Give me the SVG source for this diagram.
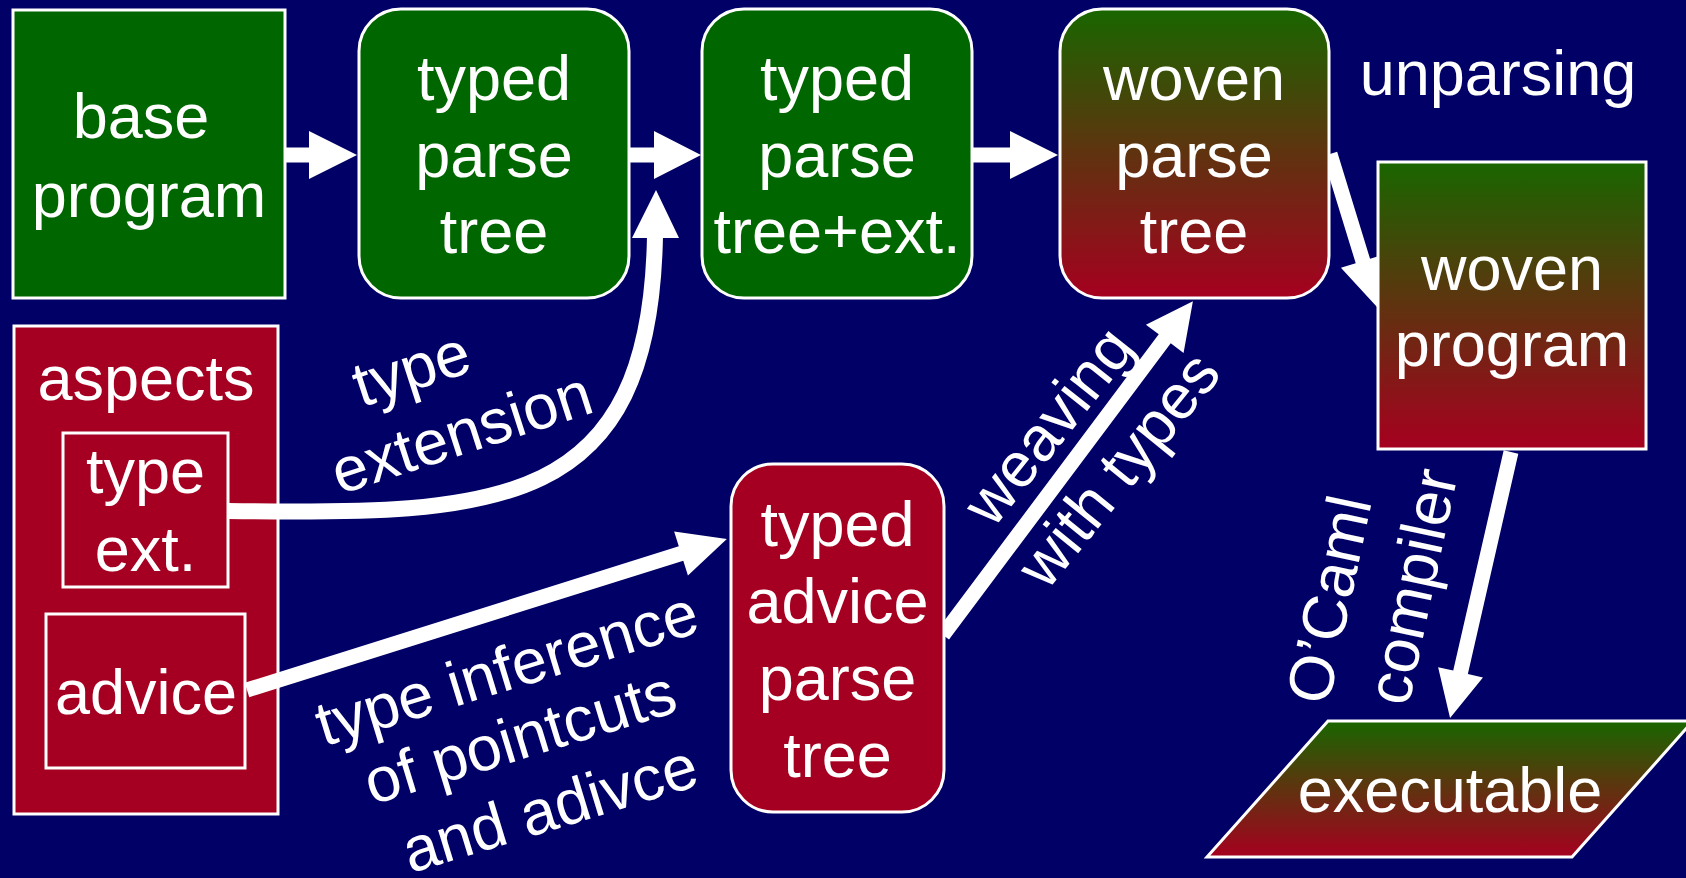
<svg xmlns="http://www.w3.org/2000/svg" width="1686" height="878" viewBox="0 0 1686 878">
<defs>
<linearGradient id="gr" x1="0" y1="0" x2="0" y2="1">
<stop offset="0" stop-color="#196600"/>
<stop offset="1" stop-color="#a6001f"/>
</linearGradient>
<style>
.t{font-family:"Liberation Sans",Arial,Helvetica,sans-serif;font-size:63px;fill:#fff;text-anchor:middle}
.box{stroke:#fff;stroke-width:3}
.g{fill:#006600}
.r{fill:#a50021}
.gr{fill:url(#gr)}
.ar{fill:#fff}
.cv{fill:none;stroke:#fff;stroke-width:16}
</style>
</defs>
<rect width="1686" height="878" fill="#000066"/>

<g id="aspects">
<rect class="box r" x="14" y="326" width="264" height="488"/>
<text class="t" x="146" y="400">aspects</text>
</g>
<g id="type-ext">
<rect class="box r" x="63" y="433" width="165" height="154"/>
<text class="t" x="145.5" y="493">type</text>
<text class="t" x="145.5" y="571">ext.</text>
</g>
<g id="advice">
<rect class="box r" x="46" y="614" width="199" height="154"/>
<text class="t" x="146" y="714">advice</text>
</g>

<g id="connectors" class="ar">
<polygon points="285,147.5 309,147.5 309,131 357,155 309,179 309,162.5 285,162.5"/>
<polygon points="629,147.5 654,147.5 654,131 701,155 654,179 654,162.5 629,162.5"/>
<polygon points="972,147.5 1010,147.5 1010,131 1058,155 1010,179 1010,162.5 972,162.5"/>
<path class="cv" d="M228,511 C500,515 650,510 655,236"/>
<polygon points="632,238 656,190 679,238"/>
<polygon transform="translate(247,690) rotate(-17.46)" points="0,-7.5 455,-7.5 455,-23 503,0 455,23 455,7.5 0,7.5"/>
<polygon transform="translate(943,635) rotate(-53.18)" points="0,-7.5 370,-7.5 370,-23.5 417,0 370,23.5 370,7.5 0,7.5"/>
<polygon transform="translate(1330,154) rotate(72.92)" points="0,-7.5 112,-7.5 112,-23 160,0 112,23 112,7.5 0,7.5"/>
<polygon transform="translate(1511,452) rotate(102.9)" points="0,-7.5 226,-7.5 226,-23 273,0 226,23 226,7.5 0,7.5"/>
</g>

<g id="labels">
<text class="t" transform="translate(418,389) rotate(-18)">type</text>
<text class="t" transform="translate(468,453) rotate(-18)">extension</text>
<text class="t" transform="translate(513,689) rotate(-17)">type inference</text>
<text class="t" transform="translate(526,758) rotate(-17)">of pointcuts</text>
<text class="t" transform="translate(556,829) rotate(-17)">and adivce</text>
<text class="t" transform="translate(1065,439) rotate(-51.5)">weaving</text>
<text class="t" transform="translate(1135,483) rotate(-51)">with types</text>
<text class="t" transform="translate(1350,604) rotate(-78)">O’Caml</text>
<text class="t" transform="translate(1433,591) rotate(-78)">compiler</text>
<text class="t" x="1498" y="95">unparsing</text>
</g>

<g id="base-program">
<rect class="box g" x="13" y="10" width="272" height="288"/>
<text class="t" x="141" y="138">base</text>
<text class="t" x="149" y="217">program</text>
</g>
<g id="typed-parse-tree">
<rect class="box g" x="359" y="9" width="270" height="289" rx="42"/>
<text class="t" x="494" y="100">typed</text>
<text class="t" x="494" y="177">parse</text>
<text class="t" x="494" y="253">tree</text>
</g>
<g id="typed-parse-tree-ext">
<rect class="box g" x="702" y="9" width="270" height="289" rx="42"/>
<text class="t" x="837" y="100">typed</text>
<text class="t" x="837" y="177">parse</text>
<text class="t" x="837" y="253">tree+ext.</text>
</g>
<g id="woven-parse-tree">
<rect class="box gr" x="1060" y="9" width="269" height="289" rx="42"/>
<text class="t" x="1194" y="100">woven</text>
<text class="t" x="1194" y="177">parse</text>
<text class="t" x="1194" y="253">tree</text>
</g>
<g id="woven-program">
<rect class="box gr" x="1378" y="162" width="268" height="287"/>
<text class="t" x="1512" y="290">woven</text>
<text class="t" x="1512" y="366">program</text>
</g>
<g id="typed-advice-parse-tree">
<rect class="box r" x="731" y="464" width="213" height="348" rx="42"/>
<text class="t" x="837.5" y="546">typed</text>
<text class="t" x="837.5" y="623">advice</text>
<text class="t" x="837.5" y="700">parse</text>
<text class="t" x="837.5" y="777">tree</text>
</g>
<g id="executable">
<polygon class="box gr" points="1328,721 1693,721 1572,857 1207,857"/>
<text class="t" x="1450" y="812">executable</text>
</g>
</svg>
